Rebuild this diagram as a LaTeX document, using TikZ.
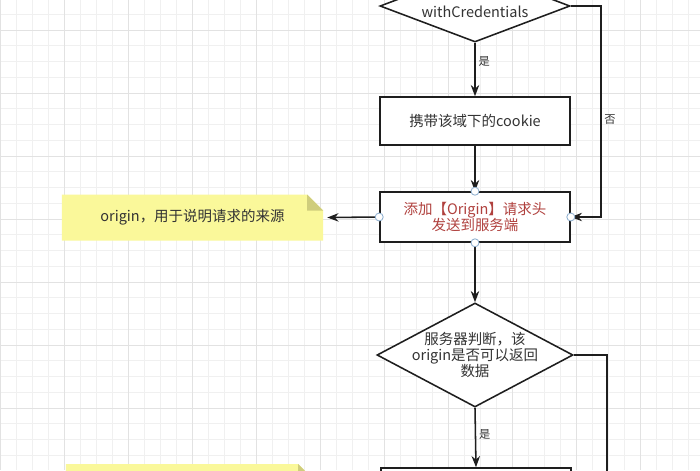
\documentclass[tikz,border=0pt]{standalone}
\usepackage{fontspec}
\setmainfont{Noto Sans CJK SC}
\usetikzlibrary{arrows.meta, positioning, shapes.geometric}
\definecolor{inkgray}{HTML}{333333}
\definecolor{linedark}{HTML}{1E1E1E}
\definecolor{reqred}{HTML}{B0413E}
\definecolor{noteyellow}{HTML}{FAF89A}
\definecolor{notefold}{HTML}{CFCD7C}
\definecolor{portblue}{HTML}{8EAFCF}
\definecolor{gridminor}{HTML}{F0F0F0}
\definecolor{gridmajor}{HTML}{E2E2E2}

\begin{document}
\begin{tikzpicture}[x=0.025cm, y=-0.025cm,
  >={Stealth[length=2.8mm, width=2.1mm]},
  txt/.style={font=\fontsize{10.3}{11.5}\selectfont, text=inkgray, align=center},
  lbl/.style={font=\fontsize{8}{9}\selectfont, text=inkgray, inner sep=2pt},
  process/.style={draw=linedark, line width=1.1pt, fill=white,
    minimum width=47.5mm, minimum height=#1, inner sep=2pt, txt},
  decision/.style n args={2}{diamond, draw=linedark, line width=1.1pt, fill=white,
    inner sep=0pt, minimum width=#1, minimum height=#2},
  note/.style={minimum width=#1, minimum height=11.5mm, txt,
    path picture={
      \fill[noteyellow] (path picture bounding box.south west)
        -- (path picture bounding box.north west)
        -- ([xshift=-4mm]path picture bounding box.north east)
        -- ([yshift=-4mm]path picture bounding box.north east)
        -- (path picture bounding box.south east) -- cycle;
      \fill[notefold] ([xshift=-4mm]path picture bounding box.north east)
        -- ([xshift=-4mm, yshift=-4mm]path picture bounding box.north east)
        -- ([yshift=-4mm]path picture bounding box.north east) -- cycle;
    }},
  port/.style={circle, draw=portblue, line width=0.6pt, fill=white,
    minimum size=2mm, inner sep=0pt},
  arr/.style={->, line width=1.1pt, linedark},
]

% Background grid
\useasboundingbox (0,0) rectangle (700,470);
\clip (0,0) rectangle (700,470);
\fill[white] (0,0) rectangle (700,470);
\foreach \gx in {0,16,...,704}
  \draw[gridminor, line width=0.5pt] (\gx,0) -- (\gx,470);
\foreach \gy in {-1.5,14.25,...,480}
  \draw[gridminor, line width=0.5pt] (0,\gy) -- (700,\gy);
\foreach \gx in {0,64,...,704}
  \draw[gridmajor, line width=0.6pt] (\gx,0) -- (\gx,470);
\foreach \gy in {30,93,...,480}
  \draw[gridmajor, line width=0.6pt] (0,\gy) -- (700,\gy);

% =============================================
% Main column
% =============================================
\node[decision={47.5mm}{18mm},
  label={[txt, yshift=-1.5mm]center:withCredentials}] (cred) at (475,6) {};

\node[process=12mm] (cookie) at (475,121) {携带该域下的cookie};

\node[process=12.5mm, text=reqred] (origin) at (475,217)
  {添加【Origin】请求头\\发送到服务端};

\node[decision={49mm}{26mm},
  label={[txt]center:{服务器判断，该\\origin是否可以返回\\数据}}] (judge) at (475,355) {};

\node[process=12mm] (result) at (476,492) {};

% =============================================
% Notes (left)
% =============================================
\node[note=65.25mm] (originnote) at (192.5,217.5) {origin，用于说明请求的来源};
\node[note=62mm] (resultnote) at (190,487) {};

% =============================================
% Connectors
% =============================================
\draw[arr] (cred.south) -- node[lbl, right, pos=0.35] (yes1) {是} (cookie.north);
\draw[arr] (cookie.south) -- (origin.north);
\draw[arr] (cred.east) -- ++(30,0) |- node[lbl, right, pos=0.27] (no1) {否} (origin.east);
\draw[arr] (origin.west) -- ([xshift=1mm]originnote.east);
\draw[arr] (origin.south) -- (judge.north);
\draw[arr] (judge.south) -- node[lbl, right, pos=0.45] (yes2) {是} (result.north);

\coordinate (noend) at (607,490);
\draw[line width=1.1pt, linedark] (judge.east) -| (noend);

% connection points on the selected box
\foreach \side in {north,south,east,west}
  \node[port] (port-\side) at (origin.\side) {};

\end{tikzpicture}
\end{document}
